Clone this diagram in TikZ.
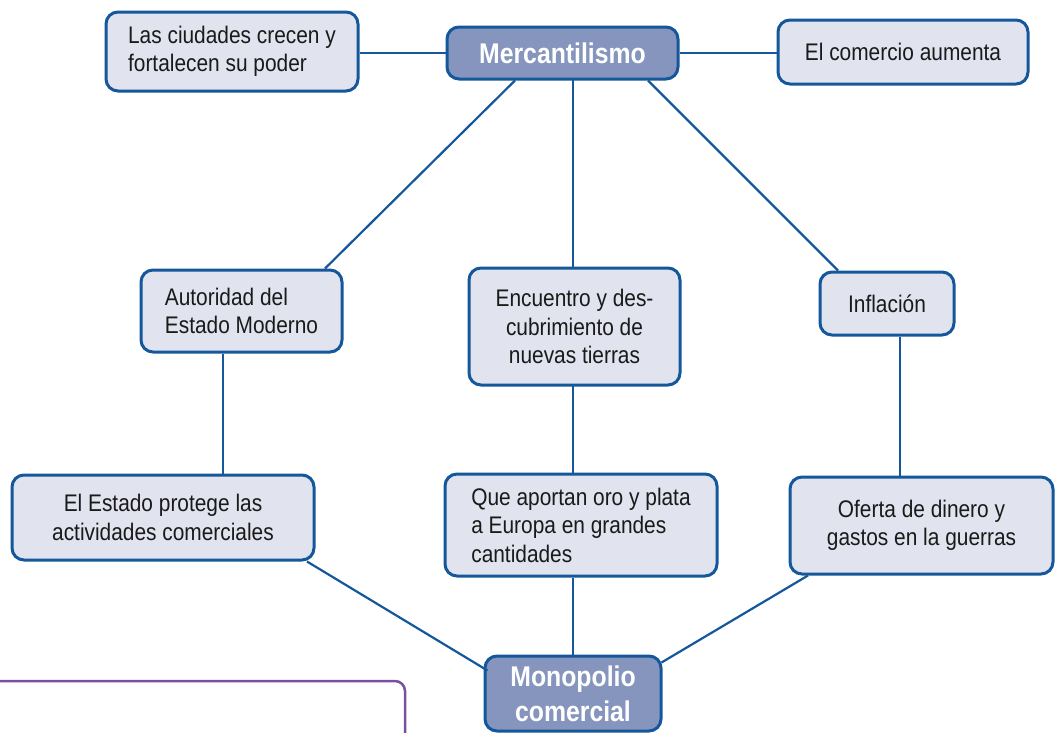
\documentclass[tikz,border=0pt]{standalone}
\usepackage{fontspec}
\setmainfont[FakeStretch=0.87]{Liberation Sans}
\usepackage{xcolor}
\usepackage{tikz}

\definecolor{boxblue}{HTML}{14579A}
\definecolor{boxfill}{HTML}{E1E3EE}
\definecolor{headfill}{HTML}{8595BD}
\definecolor{notepurple}{HTML}{7A4F9E}
\definecolor{textdark}{HTML}{1A1A1A}

\begin{document}
\begin{tikzpicture}[x=1pt, y=-1pt,
    box/.style={draw=boxblue, line width=3pt, fill=boxfill, rounded corners=12pt, text=textdark,
        inner sep=0pt, font=\fontsize{24}{28.5}\selectfont},
    headbox/.style={box, fill=headfill, text=white, font=\fontsize{28.5}{35}\selectfont\bfseries},
    link/.style={draw=boxblue, line width=2.2pt}
]
    \clip (0,0) rectangle (1060,732);

    % Top row
    \node[headbox, minimum width=231pt, minimum height=52pt] (merc) at (562.5,53) {Mercantilismo};
    \node[box, minimum width=252pt, minimum height=79pt, align=left] (ciud) at (232,51.5) {Las ciudades crecen y\\fortalecen su poder};
    \node[box, minimum width=250pt, minimum height=64pt] (com) at (903,52) {El comercio aumenta};

    % Middle row
    \node[box, minimum width=201pt, minimum height=82pt, align=left] (aut) at (241.5,311) {Autoridad del\\Estado Moderno};
    \node[box, minimum width=211pt, minimum height=117pt, align=center] (enc) at (574.5,326.5) {Encuentro y des-\\cubrimiento de\\nuevas tierras};
    \node[box, minimum width=134pt, minimum height=63pt] (inf) at (887,303.5) {Inflación};

    % Lower row
    \node[box, minimum width=302pt, minimum height=85pt, align=center] (est) at (163,517.5) {El Estado protege las\\actividades comerciales};
    \node[box, minimum width=272pt, minimum height=102pt, align=left] (que) at (581,525) {Que aportan oro y plata\\a Europa en grandes\\cantidades};
    \node[box, minimum width=263pt, minimum height=97pt, align=center] (ofe) at (921.5,525.5) {Oferta de dinero y\\gastos en la guerras};

    % Bottom
    \node[headbox, minimum width=176pt, minimum height=75pt, align=center] (mon) at (573,693.5) {Monopolio\\comercial};

    % Links
    \draw[link] (ciud.east |- merc.west) -- (merc.west);
    \draw[link] (merc.east) -- (merc.east -| com.west);
    \draw[link] ([xshift=-47.5pt]merc.south) -- ([xshift=83.5pt]aut.north);
    \draw[link] (573,79) -- (573,268);
    \draw[link] ([xshift=85.5pt]merc.south) -- ([xshift=-49pt]inf.north);
    \draw[link] ([xshift=-18.5pt]aut.south) -- ([xshift=-18.5pt]aut.south |- est.north);
    \draw[link] (573,385) -- (573,474);
    \draw[link] ([xshift=13pt]inf.south) -- ([xshift=13pt]inf.south |- ofe.north);
    \draw[link] ([xshift=144pt]est.south) -- ([xshift=4pt, yshift=23pt]mon.west);
    \draw[link] (mon.north |- que.south) -- (mon.north);
    \draw[link] ([xshift=-113.5pt]ofe.south) -- ([xshift=-1pt, yshift=31pt]mon.east);

    % Note frame
    \draw[notepurple, line width=2.5pt, rounded corners=10pt] (-10,681) -- (405,681) -- (405,750);
\end{tikzpicture}
\end{document}
